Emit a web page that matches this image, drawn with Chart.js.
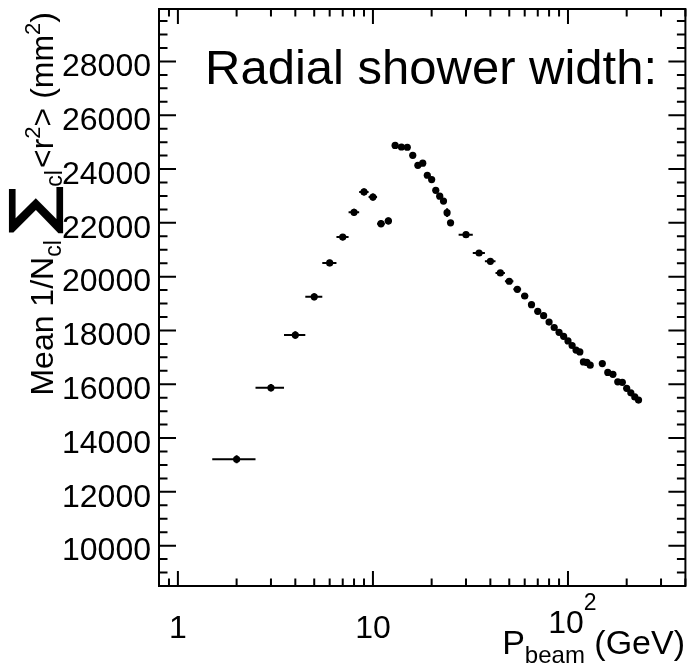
<!DOCTYPE html>
<html>
<head>
<meta charset="utf-8">
<script src="https://cdn.jsdelivr.net/npm/chart.js@4"></script>
<style>
  body { margin: 0; background: #fff; }
  #wrap { width: 689px; height: 663px; position: relative; }
</style>
</head>
<body>
<div id="wrap"><canvas id="chart"></canvas></div>
<script>
// beam momentum (GeV)
const pBeam = [2, 3, 4, 5, 6, 7, 8, 9, 10, 11, 12, 13, 14, 15, 16, 17, 18, 19, 20, 21, 22, 23, 24, 25,
  30, 35, 40, 45, 50, 55, 60, 65, 70, 75, 80, 85, 90, 95, 100, 105, 110, 115, 120, 125, 130,
  150, 160, 170, 180, 190, 200, 210, 220, 230];
// mean radial width (mm^2)
const widthVals = [13210, 15870, 17830, 19250, 20510, 21470, 22390, 23150, 22960, 21970, 22070, 24880, 24820, 24810, 24510, 24140, 24220, 23770, 23610, 23210, 22990, 22810, 22380, 22000,
  21560, 20880, 20570, 20140, 19830, 19530, 19280, 18960, 18710, 18550, 18310, 18110, 17930, 17780, 17610, 17440, 17270, 17200, 16830, 16810, 16710,
  16770, 16440, 16370, 16090, 16070, 15850, 15680, 15530, 15410];
const xErr = [0.5, 0.5, 0.5, 0.5, 0.5, 0.5, 0.5, 0.5, 0.5, 0.5, 0.5, 0.5, 0.5, 0.5, 0.5, 0.5, 0.5, 0.5, 0.5, 0.5, 0.5, 0.5, 0.5, 0.5,
  2.5, 2.5, 2.5, 2.5, 2.5, 2.5, 2.5, 2.5, 2.5, 2.5, 2.5, 2.5, 2.5, 2.5, 2.5, 2.5, 2.5, 2.5, 2.5, 2.5, 2.5,
  2.5, 2.5, 2.5, 2.5, 2.5, 2.5, 2.5, 2.5, 2.5];
const yErr = [150, 140, 140, 130, 120, 120, 130, 130, 130, 130, 130, 90, 90, 90, 90, 90, 90, 80, 80, 80, 80, 80, 160, 60,
  50, 50, 40, 40, 40, 40, 40, 40, 40, 40, 40, 40, 40, 40, 40, 40, 40, 40, 40, 40, 40,
  40, 40, 40, 40, 40, 40, 40, 40, 40];

const yTicks = [10000, 12000, 14000, 16000, 18000, 20000, 22000, 24000, 26000, 28000];
const xTicks = [1, 10, 100];
const xTickLabels = ['1', '10', '10|2'];

const FONT = '"Liberation Sans", Arial, Helvetica, sans-serif';

function font(size, bold) { return (bold ? 'bold ' : '') + size + 'px ' + FONT; }

// frame, ROOT-style ticks, labels and titles
const rootFrame = {
  id: 'rootFrame',
  beforeDatasetsDraw(chart) {
    // error bars
    const ctx = chart.ctx, xs = chart.scales.x, ys = chart.scales.y;
    ctx.save();
    ctx.strokeStyle = '#000';
    ctx.lineWidth = 2;
    pBeam.forEach((p, i) => {
      const cx = xs.getPixelForValue(p), cy = ys.getPixelForValue(widthVals[i]);
      const x1 = xs.getPixelForValue(p - xErr[i]), x2 = xs.getPixelForValue(p + xErr[i]);
      const y1 = ys.getPixelForValue(widthVals[i] - yErr[i]), y2 = ys.getPixelForValue(widthVals[i] + yErr[i]);
      ctx.beginPath();
      ctx.moveTo(x1, cy); ctx.lineTo(x2, cy);
      ctx.moveTo(cx, y1); ctx.lineTo(cx, y2);
      ctx.stroke();
    });
    ctx.restore();
  },
  afterDraw(chart) {
    const ctx = chart.ctx, a = chart.chartArea;
    const xs = chart.scales.x, ys = chart.scales.y;
    ctx.save();
    ctx.strokeStyle = '#000';
    ctx.lineWidth = 2;
    ctx.strokeRect(a.left, a.top, a.right - a.left, a.bottom - a.top);

    // y ticks
    ctx.beginPath();
    for (let v = 8500; v <= 30000; v += 500) {
      const y = ys.getPixelForValue(v);
      if (y < a.top || y > a.bottom) continue;
      const len = v % 2000 === 0 ? 17 : 8.5;
      ctx.moveTo(a.left, y); ctx.lineTo(a.left + len, y);
      ctx.moveTo(a.right, y); ctx.lineTo(a.right - len, y);
    }
    // x ticks
    for (let d = 0.1; d <= 100; d *= 10) {
      for (let k = 1; k <= 9; k++) {
        const v = d * k;
        const x = xs.getPixelForValue(v);
        if (x < a.left || x > a.right) continue;
        const len = k === 1 ? 15 : 7.5;
        ctx.moveTo(x, a.bottom); ctx.lineTo(x, a.bottom - len);
        ctx.moveTo(x, a.top); ctx.lineTo(x, a.top + len);
      }
    }
    ctx.stroke();

    ctx.fillStyle = '#000';
    // y labels
    ctx.font = font(32);
    ctx.textAlign = 'right';
    ctx.textBaseline = 'middle';
    yTicks.forEach(v => ctx.fillText(String(v), 151, ys.getPixelForValue(v) + 6));

    // x labels
    ctx.textAlign = 'center';
    ctx.textBaseline = 'alphabetic';
    xTicks.forEach((v, i) => {
      const x = xs.getPixelForValue(v);
      const parts = xTickLabels[i].split('|');
      ctx.font = font(32);
      if (parts.length === 1) {
        ctx.fillText(parts[0], x, 638);
      } else {
        const w = ctx.measureText(parts[0]).width;
        ctx.textAlign = 'left';
        ctx.fillText(parts[0], x - w / 2 - 2, 633);
        ctx.font = font(23);
        ctx.fillText(parts[1], x + w / 2 - 2, 610);
      }
    });

    // x title: P_beam (GeV), right aligned
    ctx.textAlign = 'left';
    ctx.font = font(34);
    const tMain = ' (GeV)';
    const wP = ctx.measureText('P').width, wG = ctx.measureText(tMain).width;
    ctx.font = font(24);
    const wB = ctx.measureText('beam').width;
    const tx = 685 - wP - wB - wG;
    ctx.font = font(34);
    ctx.fillText('P', tx, 654);
    ctx.font = font(24);
    ctx.fillText('beam', tx + wP, 663);
    ctx.font = font(34);
    ctx.fillText(tMain, tx + wP + wB, 654);

    // y title, rotated, right aligned at top
    // [text, size, baseline shift, extra advance, horizontal stretch, bold]
    const pieces = [
      ['Mean 1/N', 32, 0, 0, 1, false],
      ['cl', 23, 8, 2, 1, false],
      ['\u2211', 60, 0, -4, 1.3, true],
      ['cl', 23, 9, 2, 1, false],
      ['<r', 32, 0, 0, 1, false],
      ['2', 22, -13, 0, 1, false],
      ['> (mm', 32, 0, 0, 1, false],
      ['2', 22, -13, 0, 1, false],
      [')', 32, 0, 0, 1, false]
    ];
    let total = 0;
    pieces.forEach(p => { ctx.font = font(p[1], p[5]); total += ctx.measureText(p[0]).width * p[4] + p[3]; });
    ctx.translate(53, 12 + total);
    ctx.rotate(-Math.PI / 2);
    let px = 0;
    pieces.forEach(p => {
      ctx.font = font(p[1], p[5]);
      const m = ctx.measureText(p[0]);
      let dy = p[2];
      if (p[4] !== 1) {
        // big sum sign: bottom sits ~11px below baseline
        dy = 11 - m.actualBoundingBoxDescent;
        ctx.save();
        ctx.translate(px, dy);
        ctx.scale(p[4], 1);
        ctx.fillText(p[0], 0, 0);
        ctx.restore();
      } else {
        ctx.fillText(p[0], px, dy);
      }
      px += m.width * p[4] + p[3];
    });
    ctx.restore();

    // plot title
    ctx.save();
    ctx.fillStyle = '#000';
    ctx.font = font(49);
    ctx.textAlign = 'left';
    ctx.fillText('Radial shower width:', 205, 84);
    ctx.restore();
  }
};

new Chart(document.getElementById('chart'), {
  type: 'scatter',
  data: {
    datasets: [{
      data: pBeam.map((p, i) => ({ x: p, y: widthVals[i] })),
      pointRadius: 3.6,
      pointBackgroundColor: '#000',
      pointBorderWidth: 0,
      pointHoverRadius: 3.6
    }]
  },
  options: {
    responsive: true,
    maintainAspectRatio: false,
    animation: false,
    layout: { padding: { top: 9, right: 3, left: 0, bottom: 0 } },
    plugins: { legend: { display: false }, tooltip: { enabled: false } },
    scales: {
      x: {
        type: 'logarithmic',
        min: 0.8,
        max: 400,
        grid: { display: false },
        border: { display: false },
        ticks: { display: false },
        afterFit: s => { s.height = 77; }
      },
      y: {
        min: 8500,
        max: 29950,
        grid: { display: false },
        border: { display: false },
        ticks: { display: false },
        afterFit: s => { s.width = 159; }
      }
    }
  },
  plugins: [rootFrame]
});
</script>
</body>
</html>
